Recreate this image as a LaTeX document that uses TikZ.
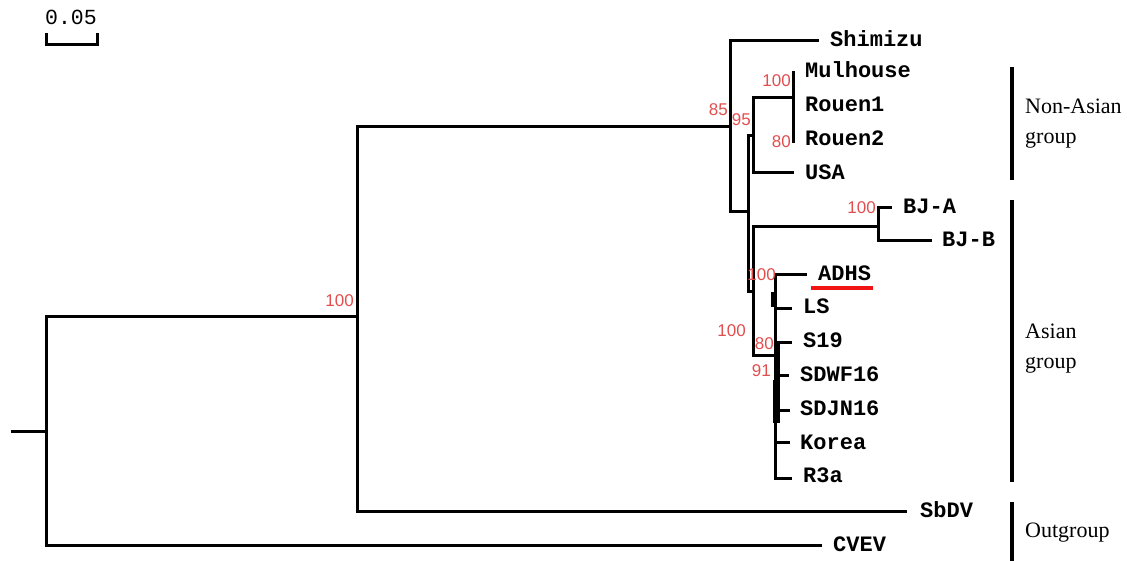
\documentclass[tikz,border=0pt]{standalone}
\usepackage{fontspec}
\setmainfont{Liberation Serif}
\newfontfamily\leafmono{Liberation Mono}
\newfontfamily\redsans{Liberation Sans}
\definecolor{bootred}{RGB}{226,78,78}
\definecolor{markred}{RGB}{240,20,20}
\begin{document}
\begin{tikzpicture}[x=1pt,y=-1pt,
  br/.style={line width=3pt,line cap=rect},
  leaf/.style={anchor=west,inner sep=0pt,text height=12pt,text depth=0pt,font=\leafmono\bfseries\fontsize{22}{24}\selectfont},
  boot/.style={anchor=east,inner sep=0pt,text height=12pt,text depth=0pt,text=bootred,font=\redsans\fontsize{17}{19}\selectfont},
  grp/.style={anchor=west,inner sep=0pt,align=left,font=\fontsize{22}{30}\selectfont},
  bar/.style={line width=4pt}]
\useasboundingbox (0,0) rectangle (1127,561);
% scale bar
\node[anchor=center,inner sep=0pt,font=\leafmono\fontsize{21.5}{23}\selectfont] (scale) at (71,17) {0.05};
\coordinate (sa) at (46,33); \coordinate (sb) at (97,33);
\draw[line width=3pt] (sa) |- (71,45) -| (sb);
% internal nodes
\coordinate (stub) at (12,431);
\coordinate (R) at (46,431);
\coordinate (N100) at (357,317);
\coordinate (N85) at (730,127);
\coordinate (NB) at (748,212);
\coordinate (NC) at (753,136);
\coordinate (NM) at (793,98);
\coordinate (ND) at (753,292);
\coordinate (NBJ) at (878,227);
\coordinate (NE) at (775,355);
\coordinate (NG) at (778,375);
% tips
\coordinate (tCVEV) at (820,545);
\coordinate (tSbDV) at (905,511);
\coordinate (tShi) at (817,41);
\coordinate (tMul) at (793,73);
\coordinate (tRo1) at (793,106);
\coordinate (tRo2) at (793,142);
\coordinate (tUSA) at (792,173);
\coordinate (tBJA) at (890,208);
\coordinate (tBJB) at (930,241);
\coordinate (tADHS) at (805,275);
\coordinate (tLS) at (790,309);
\coordinate (tS19) at (790,342);
\coordinate (tSDWF) at (787,375);
\coordinate (tSDJN) at (788,410);
\coordinate (tKor) at (788,442);
\coordinate (tR3a) at (790,478);
% branches
\draw[br] (stub) -- (R);
\draw[br] (R) |- (N100);
\draw[br] (R) |- (tCVEV);
\draw[br] (N100) |- (N85);
\draw[br] (N100) |- (tSbDV);
\draw[br] (N85) |- (tShi);
\draw[br] (N85) |- (NB);
\draw[br] (NB) |- (NC);
\draw[br] (NB) |- (ND);
\draw[br] (NC) |- (NM);
\draw[br] (NC) |- (tUSA);
\draw[br] (NM) |- (tMul);
\draw[br] (NM) |- (tRo1);
\draw[br] (NM) |- (tRo2);
\draw[br] (ND) |- (NBJ);
\draw[br] (ND) |- (NE);
\draw[br] (NBJ) |- (tBJA);
\draw[br] (NBJ) |- (tBJB);
\draw[br] (NE) |- (tADHS);
\draw[br] (NE) |- (tLS);
\draw[br] (NE) |- (NG);
\draw[br] (NE) |- (tKor);
\draw[br] (NE) |- (tR3a);
\draw[br] (NG) |- (tS19);
\draw[br] (NG) |- (tSDWF);
\draw[br] (NG) |- (tSDJN);
% thick collapsed internal segments
\coordinate (k1a) at (774,292); \coordinate (k1b) at (774,307);
\coordinate (k2a) at (776,380); \coordinate (k2b) at (776,423);
\draw[line width=6pt] (k1a) -- (k1b);
\draw[line width=7pt] (k2a) -- (k2b);
% leaf labels
\node[leaf] (Shimizu) at (830,41) {Shimizu};
\node[leaf] (Mulhouse) at (805,72) {Mulhouse};
\node[leaf] (Rouen1) at (805,106) {Rouen1};
\node[leaf] (Rouen2) at (805,140) {Rouen2};
\node[leaf] (USA) at (805,174) {USA};
\node[leaf] (BJA) at (903,208) {BJ-A};
\node[leaf] (BJB) at (942,241) {BJ-B};
\node[leaf] (ADHS) at (818,275) {ADHS};
\node[leaf] (LS) at (803,308) {LS};
\node[leaf] (S19) at (803,342) {S19};
\node[leaf] (SDWF16) at (800,375) {SDWF16};
\node[leaf] (SDJN16) at (800,409) {SDJN16};
\node[leaf] (Korea) at (800,443) {Korea};
\node[leaf] (R3a) at (803,476) {R3a};
\node[leaf] (SbDV) at (920,511) {SbDV};
\node[leaf] (CVEV) at (833,545) {CVEV};
% red underline
\coordinate (ua) at (811,288); \coordinate (ub) at (873,288);
\draw[markred,line width=4pt] (ua) -- (ub);
% bootstrap values
\node[boot] (b100a) at (354,300) {100};
\node[boot] (b85) at (728,110) {85};
\node[boot] (b95) at (751,120) {95};
\node[boot] (b100m) at (791,81) {100};
\node[boot] (b80r) at (791,142) {80};
\node[boot] (b100bj) at (876,208) {100};
\node[boot] (b100adhs) at (776,275) {100};
\node[boot] (b100d) at (746,330) {100};
\node[boot] (b80) at (774,343) {80};
\node[boot] (b91) at (771,370) {91};
% group bars
\coordinate (g1a) at (1012,67); \coordinate (g1b) at (1012,180);
\coordinate (g2a) at (1012,200); \coordinate (g2b) at (1012,482);
\coordinate (g3a) at (1012,502); \coordinate (g3b) at (1012,561);
\draw[bar] (g1a) -- (g1b);
\draw[bar] (g2a) -- (g2b);
\draw[bar] (g3a) -- (g3b);
\node[grp] (nonasian) at (1025,124) {Non-Asian\\group};
\node[grp] (asian) at (1025,349) {Asian\\group};
\node[grp] (outgroup) at (1025,533) {Outgroup};
\end{tikzpicture}
\end{document}
